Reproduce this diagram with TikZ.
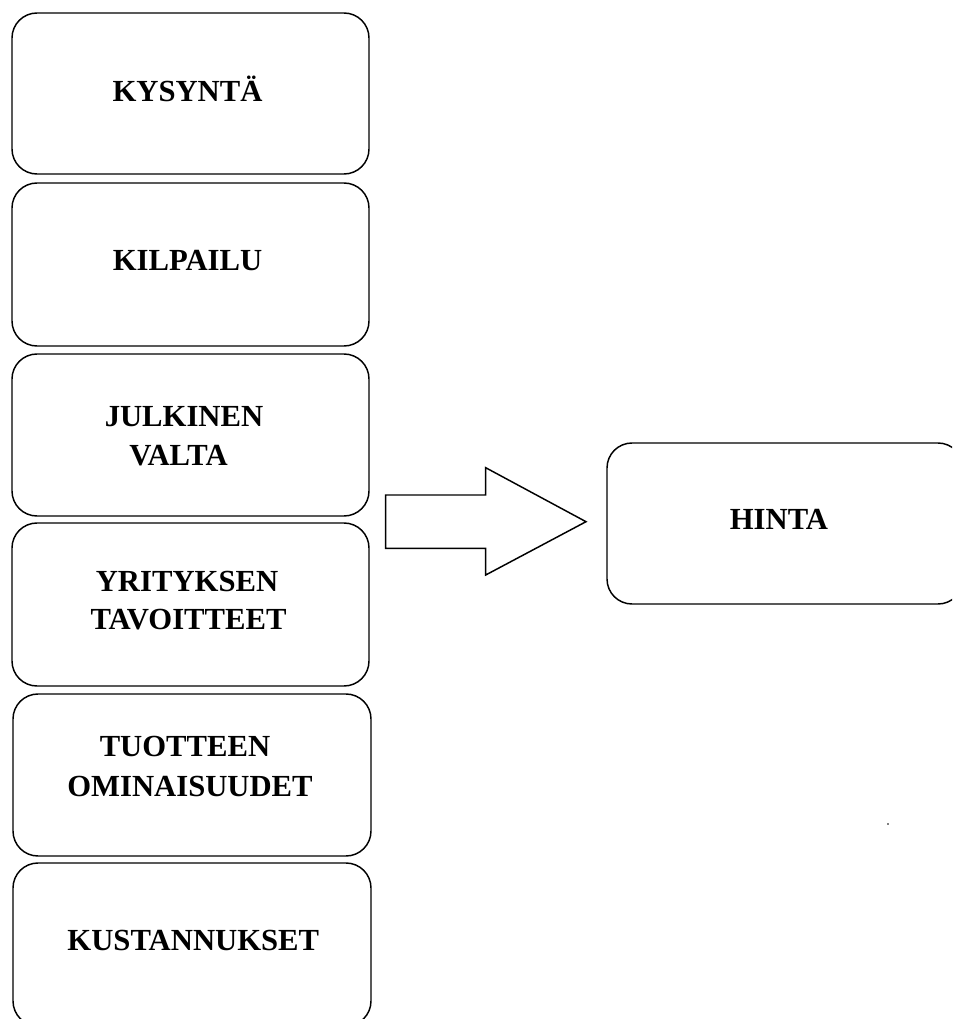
\documentclass[tikz,border=0pt]{standalone}
\usepackage{fontspec}
\setmainfont{Liberation Serif}
\begin{document}
\begin{tikzpicture}[x=0.75pt,y=-0.75pt,
  box/.style={draw=black, line width=1.1pt, rounded corners=18.75pt, rectangle, inner sep=0pt},
  lbl/.style={font=\fontsize{23}{28}\selectfont\bfseries, anchor=base, inner sep=0pt},
  bigarrow/.style={draw=black, line width=1.1pt, line join=miter}]
\useasboundingbox (0,0) rectangle (952,1019);
\clip (0,0) rectangle (952,1019);
% left column of boxes
\node[box, minimum width=357*0.75pt, minimum height=161*0.75pt] (b1) at (190.5,93.5) {};
\node[box, minimum width=357*0.75pt, minimum height=163*0.75pt] (b2) at (190.5,264.5) {};
\node[box, minimum width=357*0.75pt, minimum height=162*0.75pt] (b3) at (190.5,435) {};
\node[box, minimum width=357*0.75pt, minimum height=163*0.75pt] (b4) at (190.5,604.5) {};
\node[box, minimum width=358*0.75pt, minimum height=162*0.75pt] (b5) at (192,775) {};
\node[box, minimum width=358*0.75pt, minimum height=163*0.75pt] (b6) at (192,944.5) {};
% result box
\node[box, minimum width=356*0.75pt, minimum height=161*0.75pt] (hinta) at (785,523.5) {};
% labels
\node[lbl] (t1) at (187.5,101.7) {KYSYNTÄ};
\node[lbl] (t2) at (187.5,270.7) {KILPAILU};
\node[lbl] (t3a) at (184,426.7) {JULKINEN};
\node[lbl] (t3b) at (178.5,465) {VALTA};
\node[lbl] (t4a) at (187,591.7) {YRITYKSEN};
\node[lbl] (t4b) at (188.5,629.3) {TAVOITTEET};
\node[lbl] (t5a) at (185,756.7) {TUOTTEEN};
\node[lbl] (t5b) at (190,796.7) {OMINAISUUDET};
\node[lbl] (t6) at (193.3,950) {KUSTANNUKSET};
\node[lbl] (th) at (779,529) {HINTA};
% block arrow
\draw[bigarrow] (385.7,495) -- (485.7,495) -- (485.7,467.7) -- (586,521.7)
  -- (485.7,575) -- (485.7,548.3) -- (385.7,548.3) -- cycle;
% stray dot
\fill[gray] (886.5,823) rectangle (888.5,825);
\end{tikzpicture}
\end{document}
